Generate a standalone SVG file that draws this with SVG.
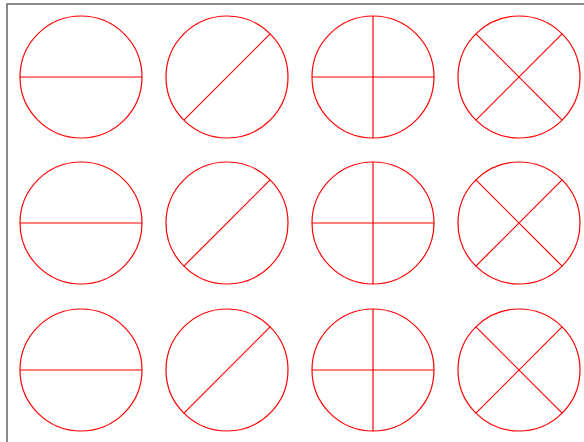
<svg xmlns="http://www.w3.org/2000/svg" width="584" height="442" viewBox="0 0 584 442">
<style>
.c{fill:none;stroke:#ff0000;stroke-width:1.2}
.l{stroke:#ff0000;stroke-width:1.2}
.b{fill:none;stroke:#666;stroke-width:1.5}
</style>
<rect width="584" height="442" fill="#fff"/>
<rect class="b" x="7" y="4" width="600" height="460"/>
<defs>
<g id="h"><circle class="c" r="61"/><line class="l" x1="-61" y1="0" x2="61" y2="0"/></g>
<g id="d"><circle class="c" r="61"/><line class="l" x1="-43.1" y1="43.1" x2="43.1" y2="-43.1"/></g>
<g id="p"><circle class="c" r="61"/><line class="l" x1="-61" y1="0" x2="61" y2="0"/><line class="l" x1="0" y1="-61" x2="0" y2="61"/></g>
<g id="x"><circle class="c" r="61"/><line class="l" x1="-43.1" y1="43.1" x2="43.1" y2="-43.1"/><line class="l" x1="-43.1" y1="-43.1" x2="43.1" y2="43.1"/></g>
</defs>
<g id="r1c1"><use href="#h" x="81" y="77"/></g>
<g id="r1c2"><use href="#d" x="227" y="77"/></g>
<g id="r1c3"><use href="#p" x="373" y="77"/></g>
<g id="r1c4"><use href="#x" x="519" y="77"/></g>
<g id="r2c1"><use href="#h" x="81" y="223"/></g>
<g id="r2c2"><use href="#d" x="227" y="223"/></g>
<g id="r2c3"><use href="#p" x="373" y="223"/></g>
<g id="r2c4"><use href="#x" x="519" y="223"/></g>
<g id="r3c1"><use href="#h" x="81" y="370"/></g>
<g id="r3c2"><use href="#d" x="227" y="370"/></g>
<g id="r3c3"><use href="#p" x="373" y="370"/></g>
<g id="r3c4"><use href="#x" x="519" y="370"/></g>
<g id="connectors"></g>
</svg>
